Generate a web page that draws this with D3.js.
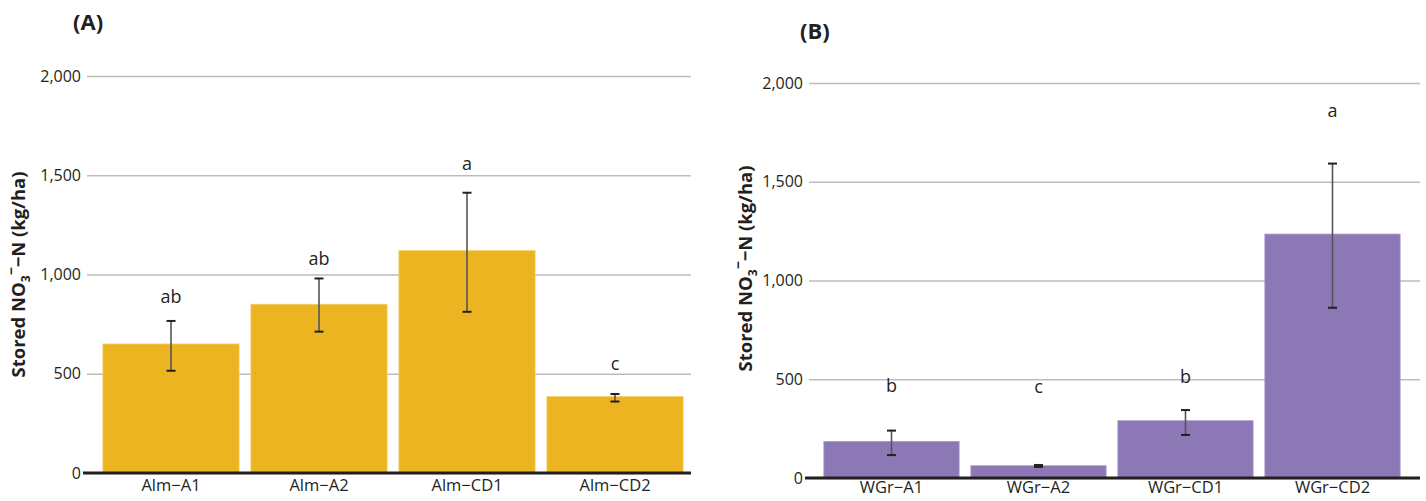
<!DOCTYPE html>
<html><head><meta charset="utf-8">
<script src="https://cdn.jsdelivr.net/npm/d3@7"></script>
<style>
html,body{margin:0;padding:0;background:#fff;}
svg{display:block;}
svg text{font-family:"Open Sans",sans-serif;}
</style></head>
<body><svg id="c" width="1426" height="501"></svg>
<script>
const yTicks = [0, 500, 1000, 1500, 2000];

const catsA = ["Alm\u2212A1", "Alm\u2212A2", "Alm\u2212CD1", "Alm\u2212CD2"];
const meanA = [650, 850, 1120, 385];
const loA   = [515, 712, 812, 360];
const hiA   = [766, 980, 1412, 398];
const lettersA = ["ab", "ab", "a", "c"];
const letterAtA = [890, 1085, 1560, 553];

const catsB = ["WGr\u2212A1", "WGr\u2212A2", "WGr\u2212CD1", "WGr\u2212CD2"];
const meanB = [185, 62, 290, 1235];
const loB   = [116, 56, 218, 862];
const hiB   = [240, 66, 344, 1592];
const lettersB = ["b", "c", "b", "a"];
const letterAtB = [470, 466, 514, 1865];

const svg = d3.select("#c");
const fmt = d3.format(",");
const FONT = '"Open Sans", sans-serif';

function panel(o) {
  const g = svg.append("g");
  const x = d3.scaleBand().domain(o.cats).range(o.xr).paddingInner(0.08).paddingOuter(0.04);
  const y = d3.scaleLinear().domain([0, 2000]).range(o.yr);

  // gridlines + tick labels
  const ax = g.append("g").attr("transform", `translate(${o.gx0},0)`)
    .call(d3.axisLeft(y).tickValues(yTicks).tickFormat(fmt).tickSize(-(o.gx1 - o.gx0)).tickPadding(6));
  ax.attr("font-family", FONT).attr("font-size", 16);
  ax.select(".domain").remove();
  ax.selectAll(".tick line").attr("stroke", "#bdbdbd").attr("stroke-width", 1.5);
  ax.selectAll(".tick text").attr("fill", "#231f20");

  // bars
  g.selectAll("rect.bar").data(o.cats).join("rect")
    .attr("x", d => x(d)).attr("width", x.bandwidth())
    .attr("y", (d, i) => y(o.mean[i])).attr("height", (d, i) => y(0) - y(o.mean[i]))
    .attr("fill", o.color).attr("stroke", o.edge).attr("stroke-width", 0.8);

  // baseline
  g.append("line").attr("x1", o.gx0 - 4).attr("x2", o.gx1).attr("y1", y(0)).attr("y2", y(0))
    .attr("stroke", "#231f20").attr("stroke-width", 3);

  // error bars
  o.cats.forEach((c, i) => {
    const cx = x(c) + x.bandwidth() / 2;
    g.append("line").attr("x1", cx).attr("x2", cx).attr("y1", y(o.lo[i])).attr("y2", y(o.hi[i]))
      .attr("stroke", "#555").attr("stroke-width", 1.6);
    [o.lo[i], o.hi[i]].forEach(v => {
      g.append("line").attr("x1", cx - 4.5).attr("x2", cx + 4.5).attr("y1", y(v)).attr("y2", y(v))
        .attr("stroke", "#231f20").attr("stroke-width", 2);
    });
    g.append("text").attr("x", cx).attr("y", y(o.letterAt[i])).attr("text-anchor", "middle")
      .attr("dominant-baseline", "central").attr("fill", "#231f20").attr("font-size", 18)
      .text(o.letters[i]);
  });

  // x labels
  const xa = g.append("g").attr("transform", `translate(0,${y(0)})`)
    .call(d3.axisBottom(x).tickSize(0).tickPadding(o.xpad));
  xa.attr("font-family", FONT).attr("font-size", 16.5);
  xa.select(".domain").remove();
  xa.selectAll("text").attr("fill", "#231f20");

  // title
  g.append("text").attr("x", o.tx).attr("y", o.ty).attr("fill", "#231f20")
    .attr("font-size", 22).attr("font-weight", "bold").text(o.title);

  // y label
  const midY = (o.yr[0] + o.yr[1]) / 2 + o.labDy;
  const t = g.append("text").attr("transform", `translate(${o.lx},${midY}) rotate(-90)`)
    .attr("text-anchor", "middle").attr("fill", "#231f20")
    .attr("font-size", 18.5).attr("font-weight", "bold");
  t.append("tspan").text("Stored NO");
  t.append("tspan").attr("dy", 5).attr("font-size", 12).text("3");
  t.append("tspan").attr("dy", -14).attr("font-size", 14).text("\u2212");
  t.append("tspan").attr("dy", 9).text("\u2212N (kg/ha)");
}

panel({cats: catsA, mean: meanA, lo: loA, hi: hiA, letters: lettersA, letterAt: letterAtA,
  xr: [97, 689], yr: [473, 76], gx0: 87, gx1: 691, color: "#edb421", edge: "#f3cc66",
  title: "(A)", tx: 73, ty: 30, lx: 25, labDy: 0, xpad: 6});

panel({cats: catsB, mean: meanB, lo: loB, hi: hiB, letters: lettersB, letterAt: letterAtB,
  xr: [818, 1406], yr: [478, 83], gx0: 809, gx1: 1420, color: "#8b78b4", edge: "#a796c8",
  title: "(B)", tx: 800, ty: 39, lx: 752, labDy: -12, xpad: 3});
</script>
</body></html>
